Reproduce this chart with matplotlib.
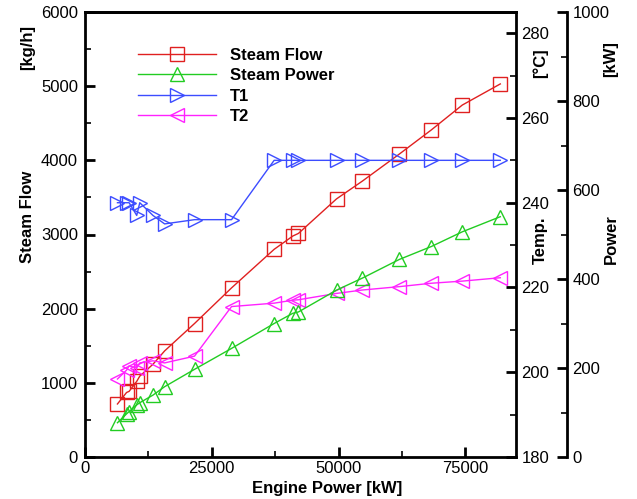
import matplotlib
matplotlib.use("Agg")
import matplotlib.pyplot as plt
from matplotlib.ticker import MultipleLocator

plt.rcParams["font.family"] = ["Liberation Sans", "DejaVu Sans"]

# data
engine_power = [6400, 8200, 8700, 10200, 10800, 13400, 15700, 21600, 28900,
                37300, 41000, 42100, 49600, 54700, 62000, 68300, 74400, 81900]
steam_flow = [715, 870, 885, 1020, 1090, 1250, 1430, 1800, 2280,
              2800, 2980, 3015, 3480, 3720, 4085, 4410, 4745, 5030]
steam_power = [77, 97, 102, 117, 122, 139, 158, 197, 244,
               300, 323, 326, 375, 402, 444, 473, 506, 540]
t1 = [240, 240, 240, 237, 240, 237, 235, 236, 236,
      250, 250, 250, 250, 250, 250, 250, 250, 250]
t2 = [198.4, 200.5, 201.5, 201.0, 202.2, 202.7, 202.2, 203.8, 215.5,
      216.3, 217.0, 217.1, 218.6, 219.4, 220.2, 221.0, 221.5, 222.3]

c_red = "#e02020"
c_green = "#22cc22"
c_blue = "#3c4cff"
c_mag = "#ff22ff"

fig = plt.figure(figsize=(6.37, 4.99), dpi=100)
ax = fig.add_axes([85 / 637, 42 / 499, 431 / 637, 445 / 499])
ax_t = ax.twinx()
ax_p = ax.twinx()
ax_p.spines["right"].set_position(("axes", 1.118))

mk = dict(markersize=9.5, markerfacecolor="none", markeredgewidth=1.0, linewidth=1.0)
l1, = ax.plot(engine_power, steam_flow, "-s", color=c_red, label="Steam Flow", **mk)
l2, = ax_p.plot(engine_power, steam_power, "-^", color=c_green, label="Steam Power", **mk)
l3, = ax_t.plot(engine_power, t1, "->", color=c_blue, label="T1", **mk)
l4, = ax_t.plot(engine_power, t2, "-<", color=c_mag, label="T2", **mk)

ax.set_xlim(0, 85000)
ax.set_ylim(0, 6000)
ax_t.set_ylim(180, 285)
ax_p.set_ylim(0, 1000)

ax.xaxis.set_major_locator(MultipleLocator(25000))
ax.xaxis.set_minor_locator(MultipleLocator(12500))
ax.yaxis.set_major_locator(MultipleLocator(1000))
ax.yaxis.set_minor_locator(MultipleLocator(500))
ax_t.yaxis.set_major_locator(MultipleLocator(20))
ax_t.yaxis.set_minor_locator(MultipleLocator(10))
ax_p.yaxis.set_major_locator(MultipleLocator(200))
ax_p.yaxis.set_minor_locator(MultipleLocator(100))

for a in (ax, ax_t, ax_p):
    for s in a.spines.values():
        s.set_linewidth(2.0)
    a.tick_params(which="major", direction="in", length=7, width=2, labelsize=12, pad=5)
    a.tick_params(which="minor", direction="in", length=4, width=1.2)
ax.tick_params(axis="x", pad=3)
ax.tick_params(right=False, top=False, which="both")
ax.spines["right"].set_visible(False)
ax_t.spines["left"].set_visible(False)
ax_t.spines["bottom"].set_visible(False)
ax_p.spines["left"].set_visible(False)
ax_p.spines["top"].set_visible(False)
ax_p.spines["bottom"].set_visible(False)
ax_t.tick_params(pad=4)
ax_p.tick_params(pad=4)

lab = dict(fontsize=12, fontweight="bold", rotation=90, ha="center", va="center")
fig.text(28 / 637, 1 - 217 / 499, "Steam Flow", **lab)
fig.text(28 / 637, 1 - 47 / 499, "[kg/h]", **lab)
fig.text(540 / 637, 1 - 240 / 499, "Temp.", **lab)
fig.text(540 / 637, 1 - 63 / 499, "[°C]", **lab)
fig.text(611 / 637, 1 - 239 / 499, "Power", **lab)
fig.text(611 / 637, 1 - 59 / 499, "[kW]", **lab)
fig.text(327 / 637, 1 - 489 / 499, "Engine Power [kW]", fontsize=12,
         fontweight="bold", ha="center", va="center")

leg = ax_p.legend(handles=[l1, l2, l3, l4], loc="upper left",
                  bbox_to_anchor=(138 / 637, 1 - 48 / 499),
                  bbox_transform=fig.transFigure, frameon=False,
                  borderpad=0, borderaxespad=0, handlelength=4.7,
                  handletextpad=0.8, labelspacing=0.32,
                  prop={"size": 12, "weight": "bold"})

fig.savefig("out.png", dpi=100)
